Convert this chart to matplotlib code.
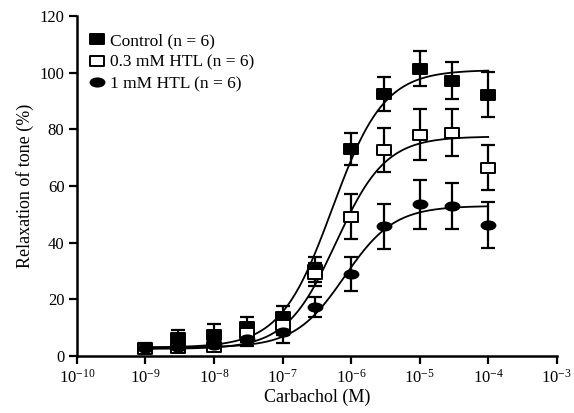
import numpy as np
import matplotlib
matplotlib.use("Agg")
import matplotlib.pyplot as plt
from matplotlib.path import Path
from matplotlib.transforms import Affine2D
from matplotlib.ticker import FixedLocator, LogFormatterMathtext, NullLocator

plt.rcParams["font.family"] = ["Liberation Serif", "DejaVu Serif"]
plt.rcParams["mathtext.fontset"] = "stix"

# ─── Data ─────────────────────────────────────────────────────────────────────
conc = [1e-9, 3e-9, 1e-8, 3e-8, 1e-7, 3e-7, 1e-6, 3e-6, 1e-5, 3e-5, 1e-4]

ctrl_mean = [3.0, 6.3, 7.4, 10.2, 13.6, 30.5, 73.0, 92.5, 101.5, 97.2, 92.3]
ctrl_sem  = [1.5, 2.8, 4.0, 3.5, 4.0, 4.5, 5.6, 6.0, 6.2, 6.5, 8.0]

htl03_mean = [2.6, 2.8, 3.2, 8.0, 11.0, 28.8, 49.2, 72.8, 78.2, 78.8, 66.5]
htl03_sem  = [1.2, 1.5, 1.5, 3.0, 3.5, 4.0, 8.0, 7.8, 9.0, 8.3, 8.0]

htl1_mean = [2.8, 3.2, 4.0, 6.0, 8.5, 17.2, 29.0, 45.8, 53.5, 53.0, 46.3]
htl1_sem  = [1.5, 1.5, 1.5, 2.5, 4.0, 3.5, 6.0, 8.0, 8.5, 8.0, 8.0]

# sigmoid fit parameters: bottom, top, EC50 (M), Hill slope
ctrl_fit  = (3.0, 101.0, 5.3e-7, 1.15)
htl03_fit = (2.5, 77.5, 6.0e-7, 1.2)
htl1_fit  = (3.0, 53.0, 8.0e-7, 1.2)

labels = ["Control (n = 6)", "0.3 mM HTL (n = 6)", "1 mM HTL (n = 6)"]
xticks = [1e-10, 1e-9, 1e-8, 1e-7, 1e-6, 1e-5, 1e-4, 1e-3]


def hill(x, bottom, top, ec50, n):
    return bottom + (top - bottom) / (1 + (ec50 / x) ** n)


# wide markers (the original is stretched horizontally)
sq = Affine2D().scale(1.45, 1.0).transform_path(Path.unit_rectangle().transformed(Affine2D().translate(-0.5, -0.5)))
ell = Affine2D().scale(1.7, 1.0).transform_path(Path.unit_circle())

fig = plt.figure(figsize=(5.74, 4.13), dpi=100)
ax = fig.add_axes([0.134, 0.138, 0.836, 0.823])

xs = np.logspace(-9, -4, 300)
series = [
    (ctrl_mean, ctrl_sem, ctrl_fit, sq, "black"),
    (htl03_mean, htl03_sem, htl03_fit, sq, "white"),
    (htl1_mean, htl1_sem, htl1_fit, ell, "black"),
]

for (m, s, fit, mk, fc), lab in zip(series, labels):
    ax.plot(xs, hill(xs, *fit), color="black", linewidth=1.3, zorder=2)
    ax.errorbar(conc, m, yerr=s, fmt="none", ecolor="black", elinewidth=1.6,
                capsize=5, capthick=1.6, zorder=3)
    ax.plot(conc, m, linestyle="none", marker=mk, markersize=10,
            markerfacecolor=fc, markeredgecolor="black", markeredgewidth=1.4,
            zorder=4, label=lab)

ax.set_xscale("log")
ax.set_xlim(1e-10, 1e-3)
ax.set_ylim(0, 120)
ax.set_yticks([0, 20, 40, 60, 80, 100, 120])
ax.xaxis.set_major_locator(FixedLocator(xticks))
ax.xaxis.set_major_formatter(LogFormatterMathtext())
ax.xaxis.set_minor_locator(NullLocator())

for side in ["top", "right"]:
    ax.spines[side].set_visible(False)
for side in ["left", "bottom"]:
    ax.spines[side].set_linewidth(1.8)
ax.tick_params(direction="out", length=6, width=1.6, labelsize=12, pad=3)

ax.set_xlabel("Carbachol (M)", fontsize=13, labelpad=2)
ax.set_ylabel("Relaxation of tone (%)", fontsize=13, labelpad=4)

ax.legend(loc="upper left", bbox_to_anchor=(0.0, 0.985), frameon=False,
          fontsize=12.5, handlelength=0.9, handletextpad=0.3,
          labelspacing=0.3, borderaxespad=0.3)

fig.savefig("out.png", dpi=100)
